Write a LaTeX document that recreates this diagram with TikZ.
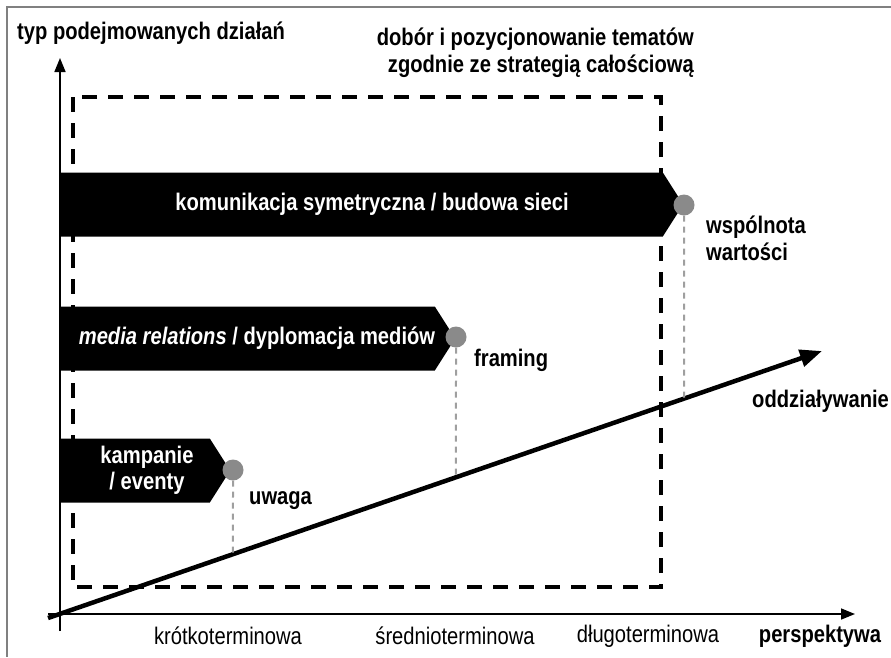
\documentclass[tikz,border=0pt]{standalone}
\usepackage{fontspec}
\setmainfont[FakeStretch=0.84]{Liberation Sans}
\usetikzlibrary{calc}
\usetikzlibrary{shapes.symbols,arrows.meta}

\tikzset{
  banner/.style={signal, signal to=east, signal pointer angle=115, fill=black,
    inner sep=0pt, minimum height=64pt, anchor=west},
  bantext/.style={text=white, font=\bfseries\fontsize{24}{26}\selectfont, inner sep=0pt, align=center},
  dot/.style={circle, fill=gray!92!white, draw=none, minimum size=21pt, inner sep=0pt},
  lbl/.style={font=\bfseries\fontsize{24}{27}\selectfont, inner sep=0pt},
  tick/.style={font=\fontsize{24}{27}\selectfont, inner sep=0pt},
  guide/.style={gray!75!white, line width=2pt, dash pattern=on 6pt off 5pt},
  frame/.style={black, line width=4pt, dash pattern=on 15pt off 11pt}
}

\begin{document}
\begin{tikzpicture}[x=1pt, y=-1pt]

\useasboundingbox (0,0) rectangle (891,657);
\draw[gray, line width=1.5pt] (891,7) -- (7,7) -- (7,657);

\coordinate (o) at (48,618);
\coordinate (tip) at (822,351);
\coordinate (ybot) at (60,631);
\coordinate (ytop) at (60,58);
\coordinate (xleft) at (48,614);
\coordinate (xright) at (855,614);

\draw[frame] (73,97) rectangle (661,587);

\draw[-{Triangle[length=14pt,width=11pt]}, line width=1.6pt] (ybot) -- (ytop);
\draw[-{Triangle[length=14pt,width=11pt]}, line width=1.6pt] (xleft) -- (xright);

\node[banner, minimum width=623pt] (b1) at (60,204.5) {};
\node[banner, minimum width=395pt] (b2) at (60,338.5) {};
\node[banner, minimum width=170pt] (b3) at (60,470.5) {};

\node[bantext] (b1t) at (372,204.5) {komunikacja symetryczna / budowa sieci};
\node[bantext] (b2t) at (257,338.5) {\textit{media relations} / dyplomacja mediów};
\node[bantext] (b3t) at (147,470.5) {kampanie\\/ eventy};

\draw[-{Triangle[length=22pt,width=17pt]}, line width=4.5pt] (o) -- (tip);

\node[dot] (d1) at (684,205) {};
\node[dot] (d2) at (456,337) {};
\node[dot] (d3) at (233,470) {};

\draw[guide] (d1.south) -- ($(o)!0.8217!(tip)$);
\draw[guide] (d2.south) -- ($(o)!0.5271!(tip)$);
\draw[guide] (d3.south) -- ($(o)!0.2390!(tip)$);

\node[lbl, anchor=west] (ytitle) at (17,33) {typ podejmowanych działań};
\node[lbl, anchor=north east, align=right] (boxtitle) at (694,28) {dobór i pozycjonowanie tematów\\zgodnie ze strategią całościową};
\node[lbl, anchor=north west, align=left] (l1) at (706,216) {wspólnota\\wartości};
\node[lbl, anchor=west] (l2) at (474,360) {framing};
\node[lbl, anchor=west] (l3) at (249,501) {uwaga};
\node[lbl, anchor=west] (l4) at (752,401) {oddziaływanie};

\node[tick] (t1) at (228,636) {krótkoterminowa};
\node[tick] (t2) at (455,636) {średnioterminowa};
\node[tick] (t3) at (648,636) {długoterminowa};
\node[lbl] (t4) at (820,636) {perspektywa};

\end{tikzpicture}
\end{document}
